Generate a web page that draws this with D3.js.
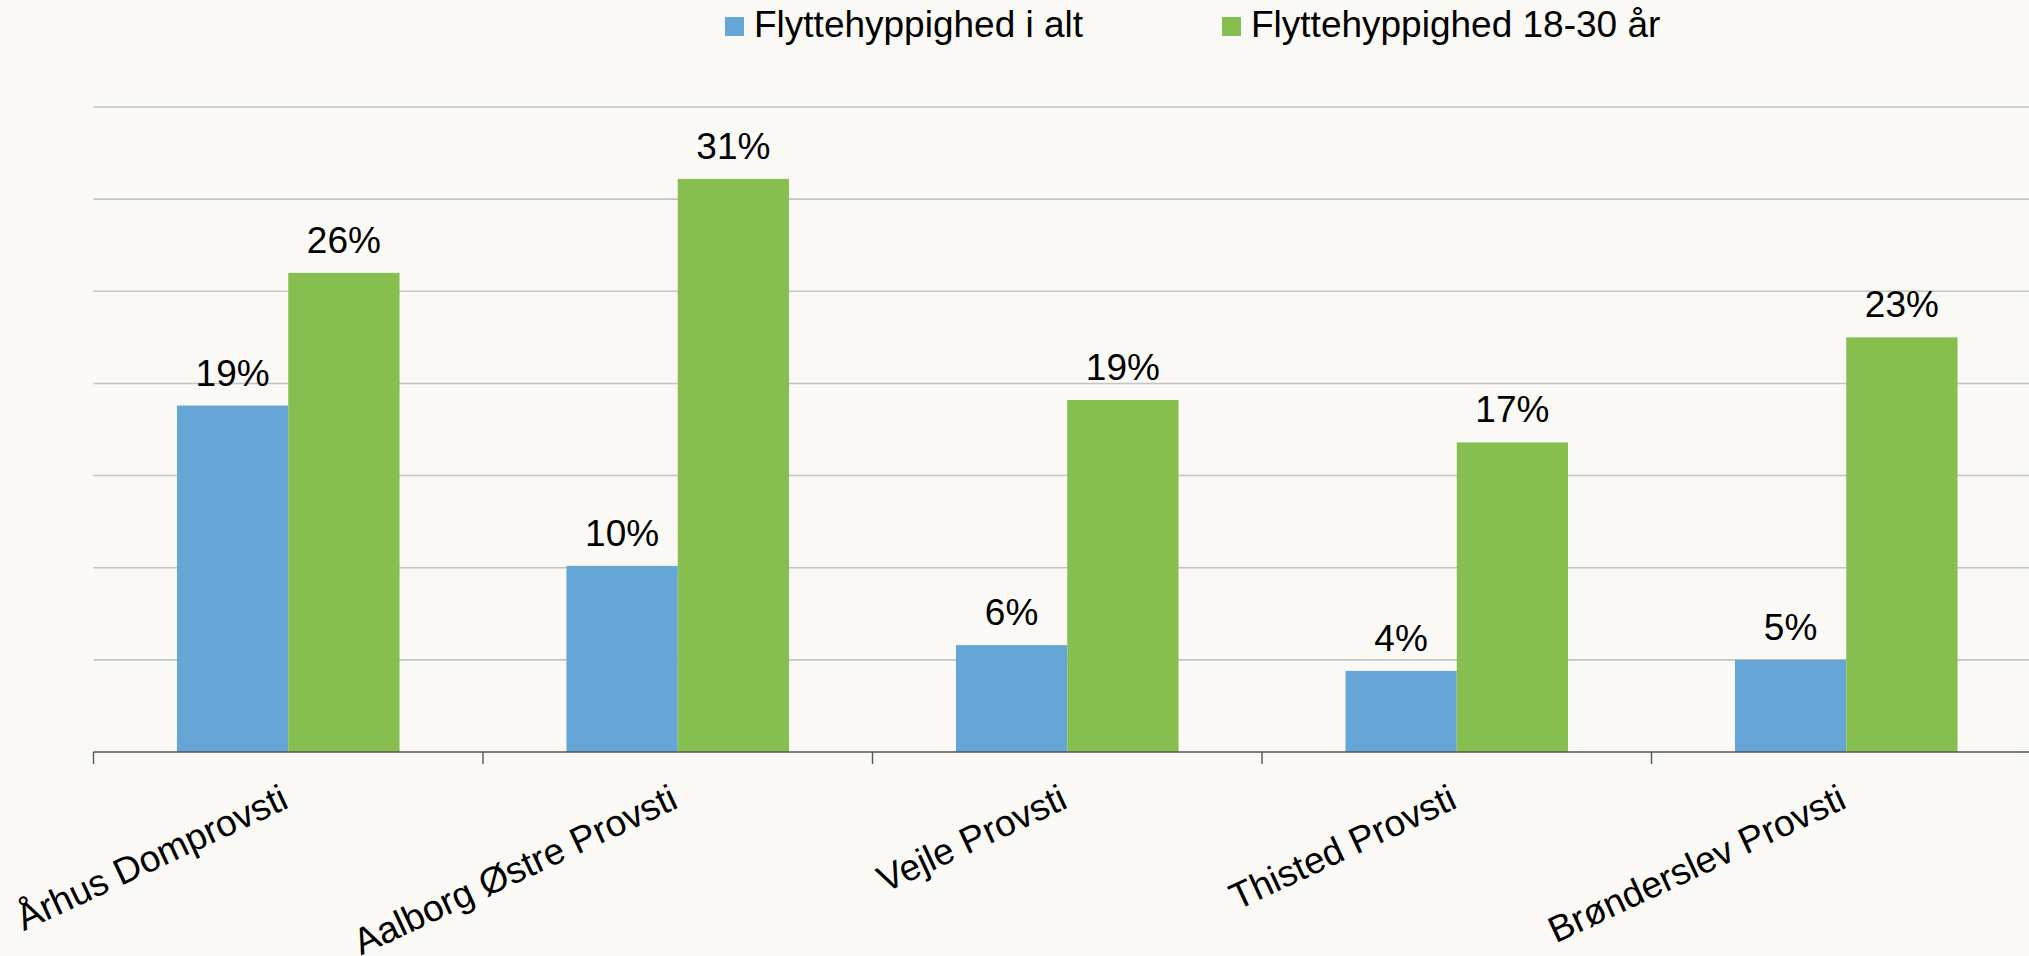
<!DOCTYPE html>
<html>
<head>
<meta charset="utf-8">
<script src="https://cdn.jsdelivr.net/npm/d3@7"></script>
<style>
  html, body { margin: 0; padding: 0; background: #faf9f5; }
  svg { display: block; font-family: "Liberation Sans", Arial, sans-serif; }
</style>
</head>
<body>
<div id="contenedor"></div>
<script>
// provstier og flyttehyppighed
var provstier = ["Århus Domprovsti", "Aalborg Østre Provsti", "Vejle Provsti", "Thisted Provsti", "Brønderslev Provsti"]
var serier = ["Flyttehyppighed i alt", "Flyttehyppighed 18-30 år"]
var iAlt = [18.8, 10.1, 5.8, 4.4, 5.0]
var unge = [26.0, 31.1, 19.1, 16.8, 22.5]
var yTicks = [0, 5, 10, 15, 20, 25, 30, 35]

var farver = ["#65a6d7", "#86bf4f"]

var ancho = 2029
var alto = 956

var venstre = 93.5
var bundY = 752
var topY = 107
var bandBredde = 389.5

var svg = d3.select("#contenedor")
  .append("svg")
  .attr("width", ancho)
  .attr("height", alto)

svg.append("rect")
  .attr("width", ancho)
  .attr("height", alto)
  .attr("fill", "#faf9f5")

var escalaX = d3.scaleBand()
  .domain(provstier)
  .range([venstre, venstre + bandBredde * provstier.length])
  .padding(0)

var escalaSerie = d3.scaleBand()
  .domain(serier)
  .range([0, escalaX.bandwidth()])
  .paddingInner(0)
  .paddingOuter(0.75)

var escalaY = d3.scaleLinear()
  .domain([0, 35])
  .range([bundY, topY])

// gitterlinjer
svg.append("g")
  .selectAll("line")
  .data(yTicks.filter(function(d) { return d > 0 }))
  .enter()
  .append("line")
  .attr("x1", venstre)
  .attr("x2", escalaX.range()[1])
  .attr("y1", function(d) { return escalaY(d) })
  .attr("y2", function(d) { return escalaY(d) })
  .attr("stroke", "#c4c4c2")
  .attr("stroke-width", 1.6)

// søjler
var rækker = provstier.map(function(p, i) {
  return [
    { provsti: p, serie: serier[0], v: iAlt[i], farve: farver[0] },
    { provsti: p, serie: serier[1], v: unge[i], farve: farver[1] }
  ]
})
var punkter = d3.merge(rækker)

svg.append("g")
  .selectAll("rect")
  .data(punkter)
  .enter()
  .append("rect")
  .attr("x", function(d) { return escalaX(d.provsti) + escalaSerie(d.serie) })
  .attr("y", function(d) { return escalaY(d.v) })
  .attr("width", escalaSerie.bandwidth())
  .attr("height", function(d) { return bundY - escalaY(d.v) })
  .attr("fill", function(d) { return d.farve })

// dataetiketter
svg.append("g")
  .selectAll("text")
  .data(punkter)
  .enter()
  .append("text")
  .attr("x", function(d) { return escalaX(d.provsti) + escalaSerie(d.serie) + escalaSerie.bandwidth() / 2 })
  .attr("y", function(d) { return escalaY(d.v) - 20 })
  .attr("text-anchor", "middle")
  .attr("font-size", 37)
  .attr("fill", "#000")
  .text(function(d) { return Math.round(d.v) + "%" })

// x-akse
var akse = svg.append("g")
akse.append("line")
  .attr("x1", venstre)
  .attr("x2", escalaX.range()[1])
  .attr("y1", bundY)
  .attr("y2", bundY)
  .attr("stroke", "#555")
  .attr("stroke-width", 1.4)

var grænser = provstier.map(function(p) { return escalaX(p) }).concat([escalaX.range()[1]])
akse.selectAll("line.tick")
  .data(grænser)
  .enter()
  .append("line")
  .attr("class", "tick")
  .attr("x1", function(d) { return d })
  .attr("x2", function(d) { return d })
  .attr("y1", bundY)
  .attr("y2", bundY + 12)
  .attr("stroke", "#555")
  .attr("stroke-width", 1.4)

akse.selectAll("text")
  .data(provstier)
  .enter()
  .append("text")
  .attr("transform", function(d) {
    return "translate(" + (escalaX(d) + escalaX.bandwidth() / 2 + 2) + "," + (bundY + 55) + ") rotate(-25)"
  })
  .attr("text-anchor", "end")
  .attr("font-size", 37)
  .attr("fill", "#000")
  .text(function(d) { return d })

// signaturforklaring
var legendeX = [725, 1222]
var legende = svg.append("g")
  .selectAll("g")
  .data(serier)
  .enter()
  .append("g")
  .attr("transform", function(d, i) { return "translate(" + legendeX[i] + ",0)" })

legende.append("rect")
  .attr("x", 0)
  .attr("y", 17)
  .attr("width", 19)
  .attr("height", 19)
  .attr("fill", function(d, i) { return farver[i] })

legende.append("text")
  .attr("x", 29)
  .attr("y", 37)
  .attr("font-size", 37)
  .attr("fill", "#000")
  .text(function(d) { return d })
</script>
</body>
</html>
